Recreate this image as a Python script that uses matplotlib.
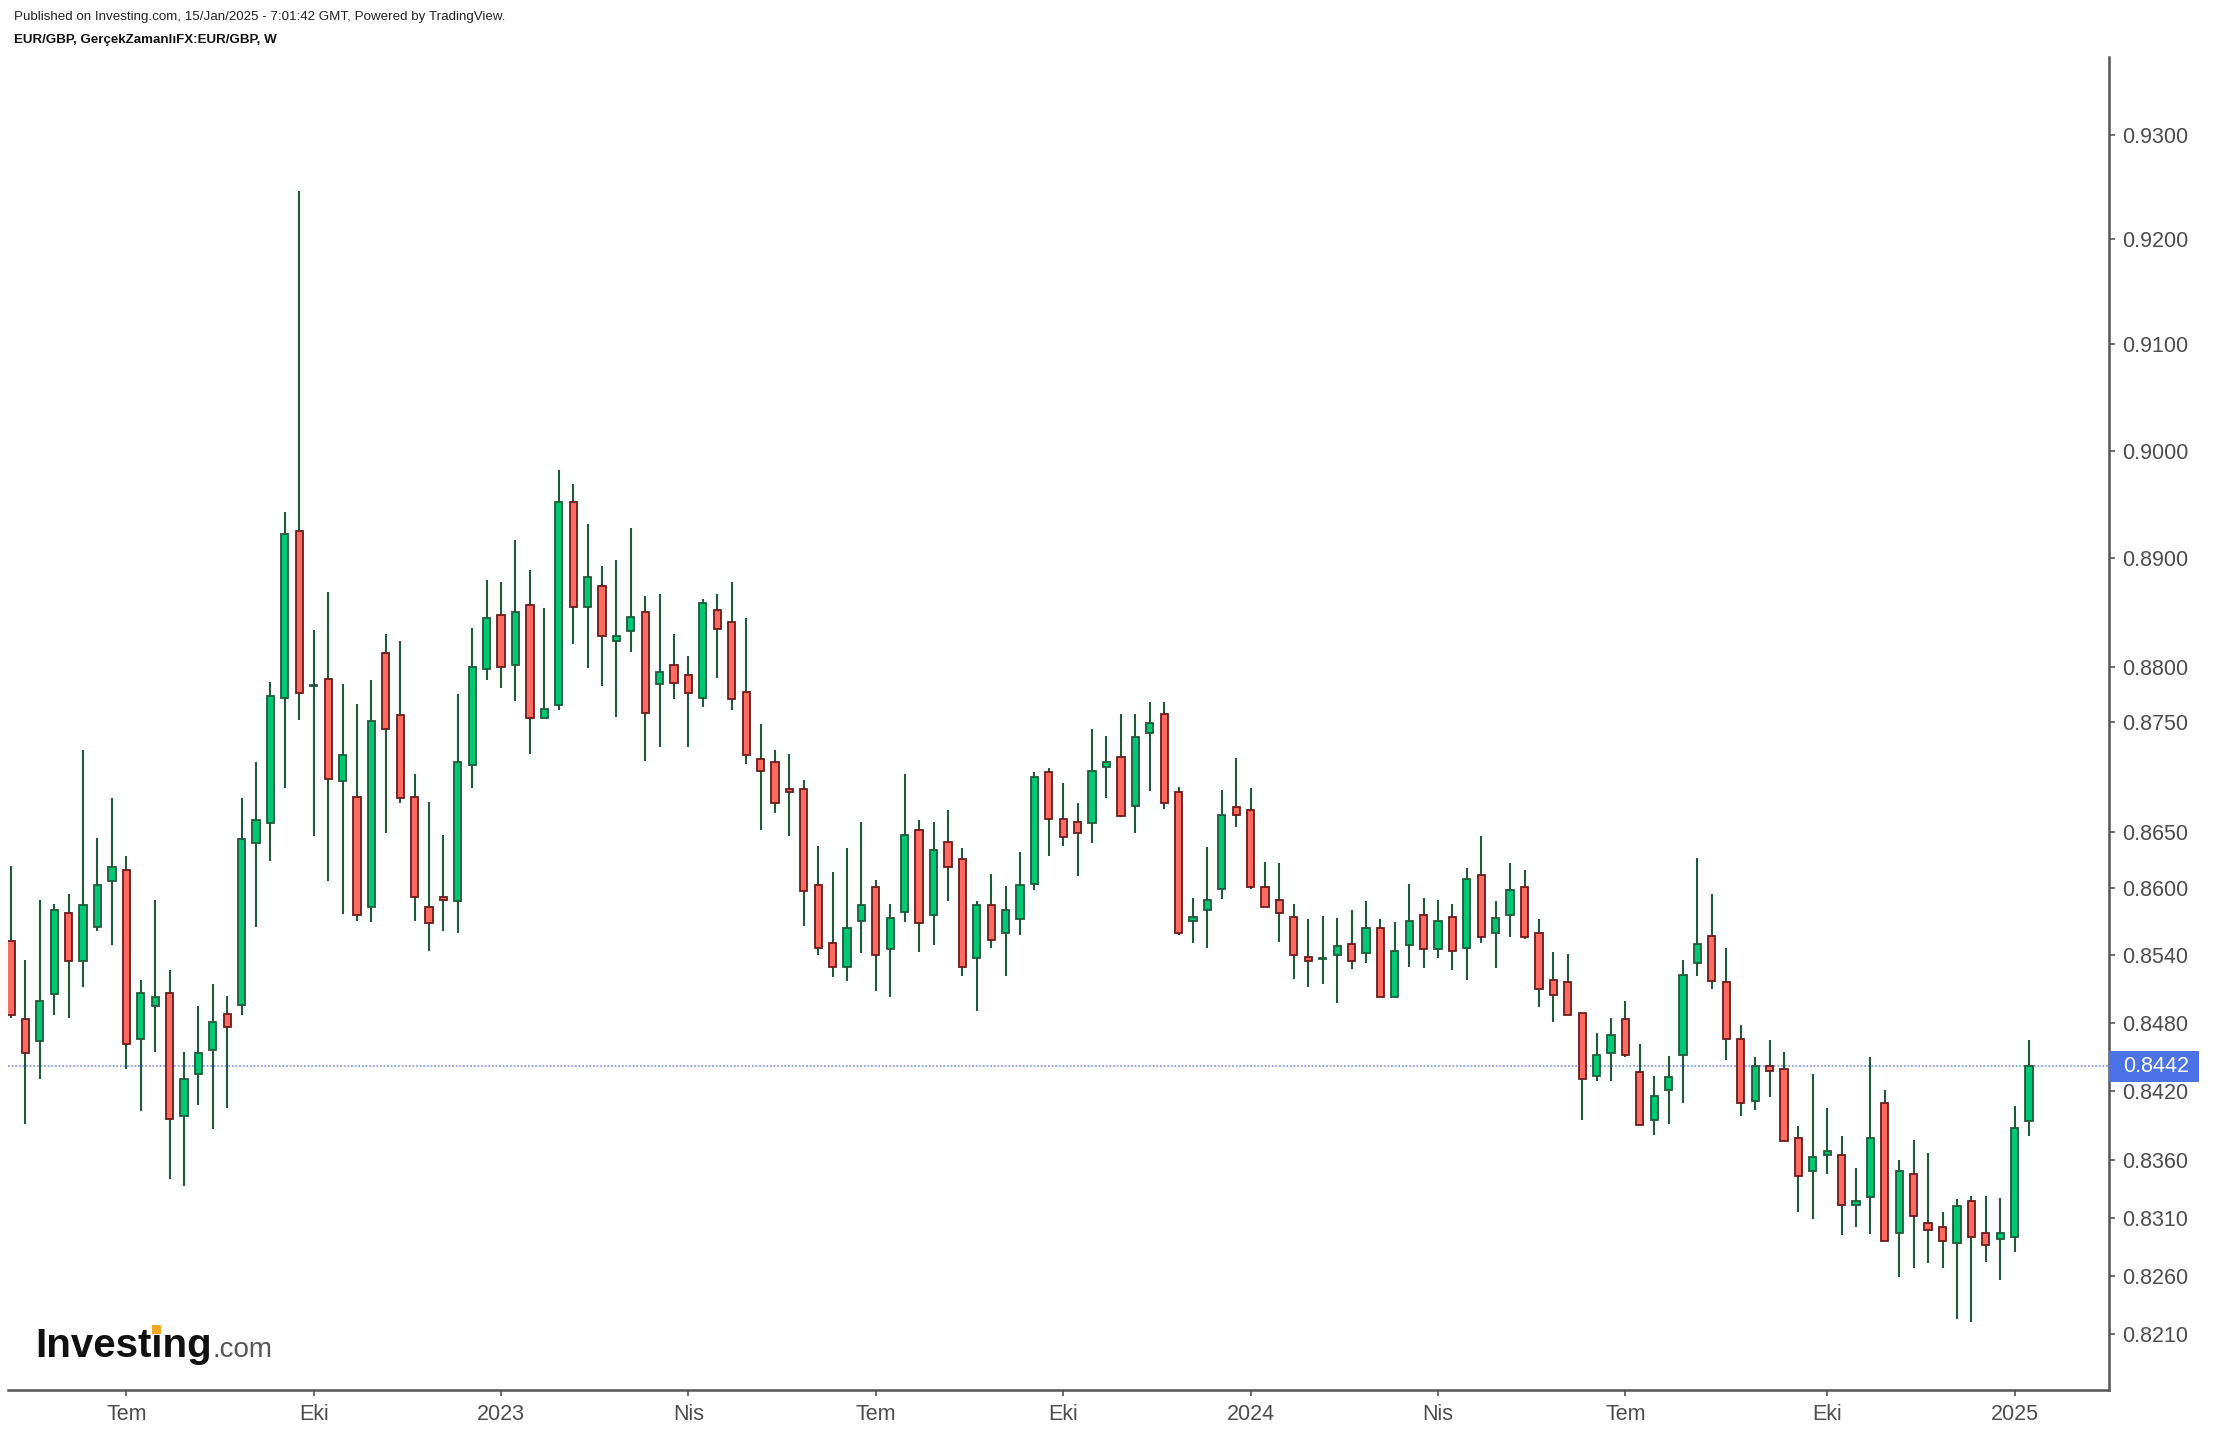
import matplotlib
matplotlib.use("Agg")
import matplotlib.pyplot as plt
import numpy as np
import pandas as pd
from matplotlib.ticker import FixedLocator, FixedFormatter, NullLocator
from matplotlib.patches import Rectangle
from matplotlib.transforms import IdentityTransform

plt.rcParams['font.family'] = ['Liberation Sans', 'DejaVu Sans']

# ---------------- data (weekly EUR/GBP) ----------------
week_start = pd.date_range("2022-05-09", periods=141, freq="W-MON")

opens = [0.8553, 0.8484, 0.8464, 0.8506, 0.8578, 0.8535, 0.8565, 0.8606, 0.8616, 0.8466,
         0.8495, 0.8507, 0.8399, 0.8435, 0.8456, 0.8488, 0.8496, 0.8640, 0.8658, 0.8772,
         0.8925, 0.8783, 0.8789, 0.8696, 0.8682, 0.8583, 0.8813, 0.8756, 0.8682, 0.8583,
         0.8592, 0.8588, 0.8711, 0.8798, 0.8848, 0.8802, 0.8857, 0.8753, 0.8765, 0.8952,
         0.8855, 0.8874, 0.8824, 0.8833, 0.8850, 0.8784, 0.8802, 0.8793, 0.8772, 0.8852,
         0.8841, 0.8777, 0.8716, 0.8713, 0.8689, 0.8689, 0.8603, 0.8551, 0.8530, 0.8571,
         0.8601, 0.8546, 0.8579, 0.8652, 0.8576, 0.8641, 0.8626, 0.8538, 0.8585, 0.8560,
         0.8572, 0.8604, 0.8704, 0.8662, 0.8659, 0.8658, 0.8709, 0.8718, 0.8674, 0.8740,
         0.8757, 0.8686, 0.8571, 0.8580, 0.8599, 0.8673, 0.8670, 0.8601, 0.8589, 0.8574,
         0.8539, 0.8537, 0.8540, 0.8550, 0.8542, 0.8564, 0.8503, 0.8549, 0.8576, 0.8546,
         0.8574, 0.8547, 0.8612, 0.8560, 0.8576, 0.8601, 0.8560, 0.8518, 0.8516, 0.8489,
         0.8434, 0.8454, 0.8484, 0.8437, 0.8395, 0.8421, 0.8452, 0.8533, 0.8557, 0.8516,
         0.8466, 0.8412, 0.8442, 0.8440, 0.8379, 0.8351, 0.8365, 0.8365, 0.8321, 0.8328,
         0.8410, 0.8297, 0.8348, 0.8306, 0.8302, 0.8288, 0.8325, 0.8297, 0.8292, 0.8294,
         0.8394]
highs = [0.8620, 0.8536, 0.8589, 0.8586, 0.8595, 0.8724, 0.8645, 0.8681, 0.8629, 0.8518,
         0.8589, 0.8527, 0.8455, 0.8495, 0.8515, 0.8504, 0.8681, 0.8713, 0.8786, 0.8943,
         0.9246, 0.8834, 0.8869, 0.8784, 0.8766, 0.8788, 0.8830, 0.8824, 0.8703, 0.8677,
         0.8648, 0.8775, 0.8836, 0.8880, 0.8878, 0.8917, 0.8889, 0.8854, 0.8982, 0.8969,
         0.8932, 0.8893, 0.8898, 0.8928, 0.8865, 0.8867, 0.8830, 0.8810, 0.8862, 0.8867,
         0.8878, 0.8845, 0.8748, 0.8724, 0.8721, 0.8697, 0.8638, 0.8614, 0.8636, 0.8659,
         0.8607, 0.8586, 0.8703, 0.8661, 0.8659, 0.8670, 0.8636, 0.8588, 0.8613, 0.8602,
         0.8632, 0.8704, 0.8708, 0.8694, 0.8676, 0.8743, 0.8737, 0.8757, 0.8757, 0.8768,
         0.8768, 0.8691, 0.8591, 0.8637, 0.8688, 0.8717, 0.8690, 0.8623, 0.8622, 0.8586,
         0.8572, 0.8575, 0.8573, 0.8580, 0.8588, 0.8572, 0.8570, 0.8604, 0.8591, 0.8589,
         0.8586, 0.8618, 0.8647, 0.8588, 0.8622, 0.8616, 0.8572, 0.8543, 0.8541, 0.8489,
         0.8471, 0.8485, 0.8500, 0.8462, 0.8434, 0.8451, 0.8536, 0.8627, 0.8595, 0.8547,
         0.8478, 0.8450, 0.8465, 0.8455, 0.8390, 0.8435, 0.8406, 0.8381, 0.8353, 0.8450,
         0.8421, 0.8360, 0.8378, 0.8366, 0.8315, 0.8326, 0.8329, 0.8329, 0.8327, 0.8407,
         0.8465]
lows = [0.8485, 0.8392, 0.8431, 0.8487, 0.8485, 0.8512, 0.8562, 0.8549, 0.8440, 0.8403,
        0.8455, 0.8344, 0.8338, 0.8408, 0.8387, 0.8406, 0.8487, 0.8565, 0.8624, 0.8690,
        0.8752, 0.8647, 0.8606, 0.8577, 0.8571, 0.8570, 0.8649, 0.8676, 0.8571, 0.8544,
        0.8562, 0.8560, 0.8690, 0.8788, 0.8781, 0.8769, 0.8721, 0.8753, 0.8761, 0.8821,
        0.8799, 0.8783, 0.8754, 0.8814, 0.8714, 0.8727, 0.8771, 0.8727, 0.8763, 0.8790,
        0.8761, 0.8712, 0.8652, 0.8667, 0.8647, 0.8566, 0.8540, 0.8521, 0.8517, 0.8542,
        0.8508, 0.8503, 0.8570, 0.8543, 0.8549, 0.8588, 0.8522, 0.8491, 0.8547, 0.8522,
        0.8558, 0.8598, 0.8629, 0.8638, 0.8611, 0.8640, 0.8681, 0.8664, 0.8649, 0.8687,
        0.8671, 0.8558, 0.8551, 0.8547, 0.8590, 0.8655, 0.8599, 0.8583, 0.8552, 0.8519,
        0.8512, 0.8515, 0.8498, 0.8528, 0.8533, 0.8503, 0.8503, 0.8530, 0.8529, 0.8538,
        0.8527, 0.8518, 0.8551, 0.8529, 0.8556, 0.8555, 0.8494, 0.8481, 0.8487, 0.8395,
        0.8429, 0.8429, 0.8450, 0.8391, 0.8382, 0.8392, 0.8410, 0.8522, 0.8510, 0.8448,
        0.8399, 0.8404, 0.8415, 0.8377, 0.8315, 0.8309, 0.8348, 0.8295, 0.8302, 0.8296,
        0.8290, 0.8259, 0.8267, 0.8271, 0.8267, 0.8223, 0.8221, 0.8272, 0.8257, 0.8281,
        0.8381]
closes = [0.8487, 0.8454, 0.8500, 0.8580, 0.8535, 0.8585, 0.8603, 0.8619, 0.8462, 0.8507,
          0.8503, 0.8396, 0.8431, 0.8454, 0.8481, 0.8477, 0.8644, 0.8661, 0.8773, 0.8922,
          0.8776, 0.8783, 0.8698, 0.8720, 0.8576, 0.8751, 0.8743, 0.8681, 0.8592, 0.8569,
          0.8589, 0.8713, 0.8800, 0.8845, 0.8800, 0.8850, 0.8753, 0.8762, 0.8952, 0.8855,
          0.8883, 0.8828, 0.8828, 0.8846, 0.8758, 0.8795, 0.8785, 0.8776, 0.8859, 0.8835,
          0.8771, 0.8720, 0.8705, 0.8676, 0.8686, 0.8597, 0.8547, 0.8530, 0.8564, 0.8585,
          0.8540, 0.8573, 0.8648, 0.8569, 0.8634, 0.8619, 0.8530, 0.8585, 0.8554, 0.8580,
          0.8603, 0.8700, 0.8662, 0.8646, 0.8649, 0.8705, 0.8713, 0.8665, 0.8736, 0.8749,
          0.8676, 0.8560, 0.8574, 0.8589, 0.8666, 0.8666, 0.8601, 0.8583, 0.8578, 0.8540,
          0.8535, 0.8537, 0.8548, 0.8535, 0.8564, 0.8503, 0.8544, 0.8571, 0.8546, 0.8571,
          0.8544, 0.8608, 0.8556, 0.8573, 0.8598, 0.8556, 0.8510, 0.8505, 0.8487, 0.8431,
          0.8452, 0.8470, 0.8452, 0.8391, 0.8416, 0.8433, 0.8523, 0.8550, 0.8517, 0.8466,
          0.8410, 0.8442, 0.8438, 0.8377, 0.8346, 0.8363, 0.8368, 0.8321, 0.8325, 0.8379,
          0.8290, 0.8351, 0.8312, 0.8300, 0.8290, 0.8320, 0.8294, 0.8287, 0.8297, 0.8388,
          0.8442]

price_ticks = [0.9300, 0.9200, 0.9100, 0.9000, 0.8900, 0.8800, 0.8750, 0.8650, 0.8600,
               0.8540, 0.8480, 0.8420, 0.8360, 0.8310, 0.8260, 0.8210]
month_labels = {1: None, 4: "Nis", 7: "Tem", 10: "Eki"}   # None -> year
last_price = 0.8442
title_line1 = "Published on Investing.com, 15/Jan/2025 - 7:01:42 GMT, Powered by TradingView."
title_line2 = "EUR/GBP, GerçekZamanlıFX:EUR/GBP, W"

# ---------------- styles ----------------
W, H = 2230, 1434
GREEN = "#00c875"
GREEN_EDGE = "#1f5a3b"
RED = "#ff6a61"
RED_EDGE = "#6a1c1c"
WICK = "#1f5a3b"
AXC = "#555555"

o = np.array(opens); h = np.array(highs); l = np.array(lows); c = np.array(closes)
x = np.arange(len(o))

fig = plt.figure(figsize=(W / 100, H / 100), dpi=100)
ax = fig.add_axes([8 / W, 44 / H, (2109 - 8) / W, (1390 - 57) / H])

ax.set_yscale("log")
ax.set_ylim(0.81627, 0.93761)
ax.set_xlim(-0.208, 145.55)

ax.axhline(last_price, color="#7090e8", lw=1.3, ls=(0, (1, 1)), alpha=0.85, zorder=1)

ax.vlines(x, l, h, color=WICK, lw=1.5, zorder=2)
up = c >= o
bot = np.minimum(o, c)
hgt = np.maximum(np.abs(c - o), 0.00004)
ax.bar(x[up], hgt[up], bottom=bot[up], width=0.5, color=GREEN,
       edgecolor=GREEN_EDGE, linewidth=1.3, zorder=3)
ax.bar(x[~up], hgt[~up], bottom=bot[~up], width=0.5, color=RED,
       edgecolor=RED_EDGE, linewidth=1.3, zorder=3)

# y axis on the right
ax.yaxis.tick_right()
ax.yaxis.set_major_locator(FixedLocator(price_ticks))
ax.yaxis.set_major_formatter(FixedFormatter([f"{p:.4f}" for p in price_ticks]))
ax.yaxis.set_minor_locator(NullLocator())

# x ticks at first week of quarter months
xt, xl = [], []
for i in range(1, len(week_start)):
    m = week_start[i].month
    if m != week_start[i - 1].month and m in month_labels:
        xt.append(i)
        xl.append(str(week_start[i].year) if month_labels[m] is None else month_labels[m])
ax.set_xticks(xt)
ax.set_xticklabels(xl)
ax.xaxis.set_minor_locator(NullLocator())

ax.tick_params(axis="y", which="major", direction="out", length=4.3, width=1.2,
               color=AXC, pad=5.5, labelsize=15.5, labelcolor="#4d4d4d")
ax.tick_params(axis="x", which="major", direction="out", length=4.3, width=1.2,
               color=AXC, pad=6, labelsize=15.5, labelcolor="#4d4d4d")

for s in ("left", "top"):
    ax.spines[s].set_visible(False)
ax.spines["right"].set_color(AXC)
ax.spines["right"].set_linewidth(1.8)
ax.spines["bottom"].set_color(AXC)
ax.spines["bottom"].set_linewidth(1.8)

# header text
fig.text(14 / W, 1 - 17 / H, title_line1, fontsize=9.6, color="#222222", ha="left", va="center",
         family=["Liberation Sans Narrow", "Liberation Sans", "DejaVu Sans"])
fig.text(14 / W, 1 - 40 / H, title_line2, fontsize=9.6, color="#111111", ha="left", va="center",
         fontweight="bold", family=["Liberation Sans Narrow", "Liberation Sans", "DejaVu Sans"])

# last price box
fig.canvas.draw()
ypix = ax.transData.transform((0, last_price))[1]
fig.add_artist(Rectangle((2109, ypix - 15.5), 90, 31, transform=IdentityTransform(),
                         facecolor="#4b73e6", edgecolor="none", zorder=5))
fig.text(2123, ypix, f"{last_price:.4f}", transform=IdentityTransform(), fontsize=15.5,
         color="white", ha="left", va="center", zorder=6)

# logo
base_y = H - 1357
t1 = fig.text(35, base_y, "Investing", transform=IdentityTransform(), fontsize=29,
              fontweight="bold", color="#111111", ha="left", va="baseline")
r = fig.canvas.get_renderer()
bb1 = t1.get_window_extent(r)
fig.text(bb1.x1 + 1, base_y, ".com", transform=IdentityTransform(), fontsize=20,
         color="#555555", ha="left", va="baseline")
tp = fig.text(35, base_y, "Investi", transform=IdentityTransform(), fontsize=29,
              fontweight="bold", alpha=0, ha="left", va="baseline")
ti = fig.text(35, base_y, "i", transform=IdentityTransform(), fontsize=29,
              fontweight="bold", alpha=0, ha="left", va="baseline")
bbp = tp.get_window_extent(r); bbi = ti.get_window_extent(r)
cx = bbp.x1 - bbi.width / 2
fig.add_artist(Rectangle((cx - 4.5, base_y + 23), 9, 9, transform=IdentityTransform(),
                         facecolor="#f5a623", edgecolor="none", zorder=7))

fig.savefig("out.png", dpi=100)
